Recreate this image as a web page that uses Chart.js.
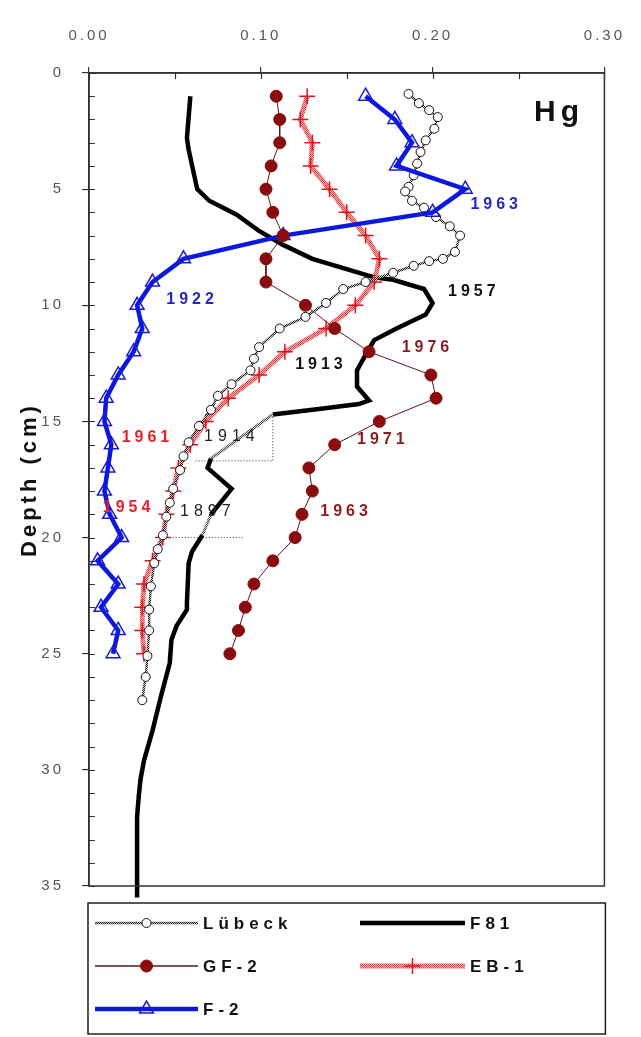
<!DOCTYPE html>
<html>
<head>
<meta charset="utf-8">
<script src="https://cdn.jsdelivr.net/npm/chart.js@4/dist/chart.umd.min.js"></script>
<style>
  html, body { margin: 0; padding: 0; background: #fff; }
  #wrap { position: relative; width: 641px; height: 1037px; }
</style>
</head>
<body>
<div id="wrap"><canvas id="c" width="641" height="1037"></canvas></div>
<script>
// Mercury profiles (Hg) against sediment depth (cm) for five cores

const lubeckDepth = [0.9,1.3,1.6,1.9,2.4,2.9,3.4,3.9,4.4,4.9,5.1,5.5,5.8,6.2,6.6,7.0,7.7,8.0,8.1,8.3,8.6,9.0,9.3,9.9,10.5,11.0,11.8,12.3,12.8,13.4,13.9,14.5,15.2,15.9,16.5,17.1,17.9,18.5,19.1,19.9,20.5,21.1,22.1,23.1,24.0,25.1,26.0,27.0];
const lubeckHg    = [0.186,0.192,0.198,0.203,0.201,0.196,0.193,0.191,0.189,0.186,0.184,0.188,0.195,0.202,0.210,0.216,0.213,0.206,0.198,0.189,0.177,0.161,0.148,0.138,0.126,0.111,0.099,0.096,0.094,0.083,0.075,0.071,0.064,0.058,0.055,0.053,0.049,0.047,0.045,0.043,0.040,0.038,0.036,0.035,0.035,0.034,0.033,0.031];

const f81Depth = [1.0,2.8,3.3,5.0,5.5,6.1,6.8,7.4,8.0,8.8,8.9,9.3,9.9,10.4,11.0,11.5,12.0,12.8,13.5,14.1,14.25,14.45,14.7,16.6,17.0,17.9,19.0,19.9,20.6,21.1,22.8,23.1,23.8,24.4,25.4,26.8,28.3,29.6,30.4,31.1,32.0,34.2,35.5];
const f81Hg    = [0.059,0.057,0.058,0.063,0.070,0.086,0.099,0.113,0.130,0.166,0.177,0.195,0.200,0.196,0.179,0.166,0.162,0.156,0.156,0.163,0.157,0.135,0.107,0.071,0.069,0.083,0.071,0.066,0.060,0.058,0.057,0.057,0.051,0.048,0.047,0.042,0.037,0.032,0.030,0.029,0.028,0.028,0.028];
// depth intervals of F81 drawn as a faint hatched trace
const f81Faint = [[14.7, 16.6], [19.0, 19.9]];

const gf2Depth = [1,2,3,4,5,6,7,8,9,10,11,12,13,14,15,16,17,18,19,20,21,22,23,24,25];
const gf2Hg    = [0.109,0.111,0.111,0.106,0.103,0.107,0.113,0.103,0.103,0.126,0.143,0.163,0.199,0.202,0.169,0.143,0.128,0.130,0.124,0.120,0.107,0.096,0.091,0.087,0.082];

const eb1Depth = [1,2,3,4,5,6,7,8,9,10,11,12,13,14,15,16,17,18,19,20,21,22,23,24,25];
const eb1Hg    = [0.127,0.123,0.130,0.129,0.140,0.150,0.161,0.169,0.166,0.155,0.138,0.114,0.099,0.081,0.068,0.059,0.052,0.049,0.045,0.043,0.037,0.032,0.031,0.031,0.032];

const f2Depth = [1,2,3,4,5,6,7,8,9,10,11,12,13,14,15,16,17,18,19,20,21,22,23,24,25];
const f2Hg    = [0.161,0.178,0.188,0.179,0.219,0.200,0.113,0.055,0.037,0.028,0.031,0.026,0.017,0.010,0.009,0.013,0.011,0.009,0.012,0.019,0.005,0.017,0.007,0.017,0.014];

// dotted leader lines for the 1914 and 1897 horizons
const lead1914Hg = [0.062, 0.107, 0.107];
const lead1914Depth = [16.7, 16.7, 14.8];
const lead1897Hg = [0.040, 0.090];
const lead1897Depth = [20.0, 20.0];

// axis ticks
const hgTicks = [0, 0.1, 0.2, 0.3];
const depthTicks = [0, 5, 10, 15, 20, 25, 30, 35];

// dating labels: text, Hg, depth
const dateLabels = [
  { t: 'Hg',   x: 0.259, y: 1.7,  color: '#111',    font: 'bold 30px "Liberation Sans"', sp: '5px' },
  { t: '1963', x: 0.222, y: 5.65, color: '#2626c4', font: 'bold 16px "Liberation Sans"', sp: '4px' },
  { t: '1922', x: 0.045, y: 9.75, color: '#2626c4', font: 'bold 16px "Liberation Sans"', sp: '4px' },
  { t: '1957', x: 0.209, y: 9.4,  color: '#111',    font: 'bold 16px "Liberation Sans"', sp: '4px' },
  { t: '1976', x: 0.182, y: 11.8, color: '#8b1c1c', font: 'bold 16px "Liberation Sans"', sp: '4px' },
  { t: '1913', x: 0.120, y: 12.55,color: '#111',    font: 'bold 16px "Liberation Sans"', sp: '4px' },
  { t: '1971', x: 0.156, y: 15.8, color: '#8b1c1c', font: 'bold 16px "Liberation Sans"', sp: '4px' },
  { t: '1961', x: 0.019, y: 15.7, color: '#e4222a', font: 'bold 16px "Liberation Sans"', sp: '4px' },
  { t: '1914', x: 0.067, y: 15.65,color: '#222',    font: '16px "Liberation Sans"',      sp: '5px' },
  { t: '1963', x: 0.1346,y: 18.9, color: '#8b1c1c', font: 'bold 16px "Liberation Sans"', sp: '4px' },
  { t: '1954', x: 0.008, y: 18.7, color: '#e4222a', font: 'bold 16px "Liberation Sans"', sp: '4px' },
  { t: '1897', x: 0.053, y: 18.9, color: '#222',    font: '16px "Liberation Sans"',      sp: '5px' }
];

const canvas = document.getElementById('c');
const ctx2d = canvas.getContext('2d');

function checker(a, b) {
  const t = document.createElement('canvas');
  t.width = 2; t.height = 2;
  const g = t.getContext('2d');
  g.fillStyle = b; g.fillRect(0, 0, 2, 2);
  g.fillStyle = a; g.fillRect(0, 0, 1, 1); g.fillRect(1, 1, 1, 1);
  return ctx2d.createPattern(t, 'repeat');
}
const lubeckStroke = checker('#111', '#d0d0d0');
const ebStroke = checker('#e3363d', '#f8c2c2');
const faintStroke = checker('#444', '#dcdcdc');

const pts = (hg, depth) => depth.map((d, i) => ({ x: hg[i], y: d }));
const inFaint = c => f81Faint.some(([s, e]) => c.p0.parsed.y >= s && c.p1.parsed.y <= e);

Chart.defaults.font.family = '"Liberation Sans", Arial, sans-serif';

// inner minor ticks plus the closed frame around the plot
const frame = {
  id: 'frame',
  afterDatasetsDraw(chart) {
    const { ctx, chartArea: a, scales: { x, y } } = chart;
    ctx.save();
    ctx.strokeStyle = '#333';
    ctx.lineWidth = 1.2;
    ctx.beginPath();
    for (let d = 0; d <= 35; d++) {
      const py = Math.round(y.getPixelForValue(d)) + 0.5;
      ctx.moveTo(a.left, py); ctx.lineTo(a.left + 6, py);
    }
    for (let k = 0; k <= 6; k++) {
      const px = Math.round(x.getPixelForValue(k * 0.05)) + 0.5;
      ctx.moveTo(px, a.top); ctx.lineTo(px, a.top + 6);
    }
    ctx.stroke();
    ctx.lineWidth = 1.5;
    ctx.strokeRect(a.left, a.top, a.right - a.left, a.bottom - a.top);
    ctx.restore();
  }
};

// dating labels placed in data coordinates
const notes = {
  id: 'notes',
  afterDatasetsDraw(chart) {
    const { ctx, scales: { x, y } } = chart;
    ctx.save();
    ctx.textAlign = 'left';
    ctx.textBaseline = 'middle';
    dateLabels.forEach(n => {
      ctx.font = n.font;
      ctx.letterSpacing = n.sp;
      ctx.fillStyle = n.color;
      ctx.fillText(n.t, x.getPixelForValue(n.x), y.getPixelForValue(n.y));
    });
    ctx.restore();
  }
};

// vertical depth title left of the axis
const depthTitle = {
  id: 'depthTitle',
  afterDraw(chart) {
    const { ctx, chartArea: a } = chart;
    ctx.save();
    ctx.translate(30, (a.top + a.bottom) / 2);
    ctx.rotate(-Math.PI / 2);
    ctx.font = 'bold 22px "Liberation Sans"';
    ctx.letterSpacing = '4px';
    ctx.fillStyle = '#111';
    ctx.textAlign = 'center';
    ctx.textBaseline = 'middle';
    ctx.fillText('Depth (cm)', 0, 0);
    ctx.restore();
  }
};

// boxed legend below the plot, two columns
const legendBox = {
  id: 'legendBox',
  afterDraw(chart) {
    const { ctx, chartArea: a } = chart;
    const top = a.bottom + 17;
    const left = a.left - 1, right = a.right + 1;
    ctx.save();
    ctx.letterSpacing = '0px';
    ctx.strokeStyle = '#222';
    ctx.lineWidth = 1.5;
    ctx.strokeRect(left, top, right - left, chart.height - 3 - top);
    const entries = chart.data.datasets.filter(d => d.label);
    entries.forEach((ds, i) => {
      const col = i % 2, row = Math.floor(i / 2);
      const y = top + 20 + row * 43;
      const x0 = left + (col ? 272 : 7), x1 = left + (col ? 377 : 110);
      const xm = (x0 + x1) / 2;
      ctx.beginPath();
      ctx.strokeStyle = ds.borderColor;
      ctx.lineWidth = ds.legendLineWidth || ds.borderWidth;
      ctx.moveTo(x0, y); ctx.lineTo(x1, y);
      ctx.stroke();
      if (ds.pointRadius > 0) {
        ctx.fillStyle = ds.pointBackgroundColor || ds.borderColor;
        ctx.strokeStyle = ds.pointBorderColor || ds.borderColor;
        ctx.lineWidth = ds.pointBorderWidth || 1;
        Chart.helpers.drawPoint(ctx, {
          pointStyle: ds.pointStyle, rotation: 0,
          radius: ds.pointRadius, borderWidth: ds.pointBorderWidth || 1
        }, xm, y);
      }
      ctx.font = 'bold 17px "Liberation Sans"';
      ctx.letterSpacing = '5px';
      ctx.fillStyle = '#111';
      ctx.textAlign = 'left';
      ctx.textBaseline = 'middle';
      ctx.fillText(ds.label, x1 + 5, y + 1);
      ctx.letterSpacing = '0px';
    });
    ctx.restore();
  }
};

const spacedText = {
  id: 'spacedText',
  beforeDraw(chart) { chart.ctx.letterSpacing = '3px'; }
};

new Chart(canvas, {
  type: 'scatter',
  data: {
    datasets: [
      {
        label: 'Lübeck', data: pts(lubeckHg, lubeckDepth), showLine: true,
        borderColor: lubeckStroke, borderWidth: 2.5,
        pointStyle: 'circle', pointRadius: 4.5, pointBorderWidth: 1,
        pointBorderColor: '#111', pointBackgroundColor: '#fff', order: 2
      },
      {
        label: 'F81', data: pts(f81Hg, f81Depth), showLine: true,
        borderColor: '#000', borderWidth: 4.5, pointRadius: 0, order: 4, clip: false,
        segment: {
          borderColor: c => inFaint(c) ? faintStroke : undefined,
          borderWidth: c => inFaint(c) ? 3 : undefined
        }
      },
      {
        label: 'GF-2', data: pts(gf2Hg, gf2Depth), showLine: true,
        borderColor: '#5e1414', borderWidth: 1, legendLineWidth: 1.5,
        pointStyle: 'circle', pointRadius: 6, pointBorderWidth: 1,
        pointBackgroundColor: '#8a0c0c', pointBorderColor: '#8a0c0c', order: 0
      },
      {
        label: 'EB-1', data: pts(eb1Hg, eb1Depth), showLine: true,
        borderColor: ebStroke, borderWidth: 5,
        pointStyle: 'cross', pointRadius: 8, pointBorderWidth: 1.5,
        pointBorderColor: '#e0141e', pointBackgroundColor: '#e0141e', order: 3
      },
      {
        label: 'F-2', data: pts(f2Hg, f2Depth), showLine: true,
        borderColor: '#0b18e0', borderWidth: 4.5,
        pointStyle: 'triangle', pointRadius: 8, pointBorderWidth: 1.5,
        pointBorderColor: '#1a1ad6', pointBackgroundColor: 'rgba(255,255,255,0)', order: 1
      },
      {
        label: '', data: pts(lead1914Hg, lead1914Depth), showLine: true,
        borderColor: '#333', borderWidth: 1, borderDash: [1, 2], pointRadius: 0, order: 5
      },
      {
        label: '', data: pts(lead1897Hg, lead1897Depth), showLine: true,
        borderColor: '#333', borderWidth: 1, borderDash: [1, 2], pointRadius: 0, order: 5
      }
    ]
  },
  options: {
    responsive: false,
    animation: false,
    events: [],
    layout: { padding: { top: 0, left: 0, right: 26, bottom: 151 } },
    plugins: { legend: { display: false }, tooltip: { enabled: false } },
    elements: { line: { tension: 0 } },
    scales: {
      x: {
        type: 'linear', position: 'top', min: 0, max: 0.3,
        afterFit: s => { s.height = 73; },
        afterBuildTicks: s => { s.ticks = hgTicks.map(v => ({ value: v })); },
        ticks: { callback: v => v.toFixed(2), color: '#555', font: { size: 15 }, padding: 22, maxRotation: 0 },
        grid: { drawOnChartArea: false, tickLength: 6, color: '#333', lineWidth: 1.2 },
        border: { color: '#333', width: 1.5 }
      },
      y: {
        type: 'linear', reverse: true, min: 0, max: 35,
        afterFit: s => { s.width = 89; },
        afterBuildTicks: s => { s.ticks = depthTicks.map(v => ({ value: v })); },
        ticks: { color: '#555', font: { size: 15 }, padding: 18 },
        grid: { drawOnChartArea: false, tickLength: 7, color: '#333', lineWidth: 1.2 },
        border: { color: '#333', width: 1.5 },
        title: { display: false }
      }
    }
  },
  plugins: [spacedText, frame, notes, depthTitle, legendBox]
});
</script>
</body>
</html>
